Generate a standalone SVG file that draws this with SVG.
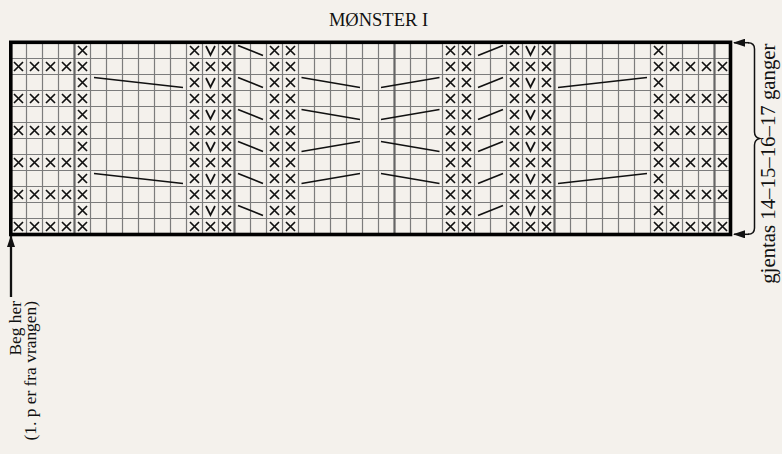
<svg xmlns="http://www.w3.org/2000/svg" xmlns:xlink="http://www.w3.org/1999/xlink" width="782" height="454" viewBox="0 0 782 454">
<style>
.grid{stroke:#7c7c7c;stroke-width:1.2;fill:none}
.thick{stroke:#666;stroke-width:2.2;fill:none}
.sym{stroke:#111;stroke-width:1.7;fill:none;stroke-linecap:butt}
.ln{stroke:#111;stroke-width:1.7;fill:none}
.txt{font-family:"Liberation Serif","Times New Roman",serif;fill:#111}
</style>
<defs>
<path id="X" class="sym" d="M3.5 3.5L12.5 12.5M12.5 3.5L3.5 12.5"/>
<path id="V" class="sym" d="M3.5 3.5L8 12.5L12.5 3.5"/>
<marker id="ah" viewBox="0 0 12 8" refX="11" refY="4" markerWidth="12" markerHeight="8" markerUnits="userSpaceOnUse" orient="auto"><path d="M0 0L12 4L0 8Z" fill="#111"/></marker>
</defs>
<rect width="782" height="454" fill="#f4f1ec"/>
<text class="txt" x="378.5" y="26" font-size="18.5" text-anchor="middle">MØNSTER I</text>
<g id="grid">
<path class="grid" d="M10.5 58.5H730.5M10.5 74.5H730.5M10.5 90.5H730.5M10.5 106.5H730.5M10.5 122.5H730.5M10.5 138.5H730.5M10.5 154.5H730.5M10.5 170.5H730.5M10.5 186.5H730.5M10.5 202.5H730.5M10.5 218.5H730.5"/>
<path class="grid" d="M26.5 42.5V234.5M42.5 42.5V234.5M58.5 42.5V234.5M90.5 42.5V234.5M106.5 42.5V234.5M122.5 42.5V234.5M138.5 42.5V234.5M154.5 42.5V234.5M170.5 42.5V234.5M186.5 42.5V234.5M202.5 42.5V234.5M218.5 42.5V234.5M250.5 42.5V234.5M266.5 42.5V234.5M282.5 42.5V234.5M298.5 42.5V234.5M314.5 42.5V234.5M330.5 42.5V234.5M346.5 42.5V234.5M362.5 42.5V234.5M378.5 42.5V234.5M410.5 42.5V234.5M426.5 42.5V234.5M442.5 42.5V234.5M458.5 42.5V234.5M474.5 42.5V234.5M490.5 42.5V234.5M506.5 42.5V234.5M522.5 42.5V234.5M538.5 42.5V234.5M570.5 42.5V234.5M586.5 42.5V234.5M602.5 42.5V234.5M618.5 42.5V234.5M634.5 42.5V234.5M650.5 42.5V234.5M666.5 42.5V234.5M682.5 42.5V234.5M698.5 42.5V234.5"/>
<path class="thick" d="M74.5 42.5V234.5M234.5 42.5V234.5M394.5 42.5V234.5M554.5 42.5V234.5M714.5 42.5V234.5"/>
<rect x="10.8" y="42.3" width="719.7" height="192.2" fill="none" stroke="#000" stroke-width="3.6"/>
</g>
<g id="symbols">
<use href="#X" x="10.5" y="58.5"/><use href="#X" x="26.5" y="58.5"/><use href="#X" x="42.5" y="58.5"/><use href="#X" x="58.5" y="58.5"/>
<use href="#X" x="10.5" y="90.5"/><use href="#X" x="26.5" y="90.5"/><use href="#X" x="42.5" y="90.5"/><use href="#X" x="58.5" y="90.5"/>
<use href="#X" x="10.5" y="122.5"/><use href="#X" x="26.5" y="122.5"/><use href="#X" x="42.5" y="122.5"/><use href="#X" x="58.5" y="122.5"/>
<use href="#X" x="10.5" y="154.5"/><use href="#X" x="26.5" y="154.5"/><use href="#X" x="42.5" y="154.5"/><use href="#X" x="58.5" y="154.5"/>
<use href="#X" x="10.5" y="186.5"/><use href="#X" x="26.5" y="186.5"/><use href="#X" x="42.5" y="186.5"/><use href="#X" x="58.5" y="186.5"/>
<use href="#X" x="10.5" y="218.5"/><use href="#X" x="26.5" y="218.5"/><use href="#X" x="42.5" y="218.5"/><use href="#X" x="58.5" y="218.5"/>
<use href="#X" x="666.5" y="58.5"/><use href="#X" x="682.5" y="58.5"/><use href="#X" x="698.5" y="58.5"/><use href="#X" x="714.5" y="58.5"/>
<use href="#X" x="666.5" y="90.5"/><use href="#X" x="682.5" y="90.5"/><use href="#X" x="698.5" y="90.5"/><use href="#X" x="714.5" y="90.5"/>
<use href="#X" x="666.5" y="122.5"/><use href="#X" x="682.5" y="122.5"/><use href="#X" x="698.5" y="122.5"/><use href="#X" x="714.5" y="122.5"/>
<use href="#X" x="666.5" y="154.5"/><use href="#X" x="682.5" y="154.5"/><use href="#X" x="698.5" y="154.5"/><use href="#X" x="714.5" y="154.5"/>
<use href="#X" x="666.5" y="186.5"/><use href="#X" x="682.5" y="186.5"/><use href="#X" x="698.5" y="186.5"/><use href="#X" x="714.5" y="186.5"/>
<use href="#X" x="666.5" y="218.5"/><use href="#X" x="682.5" y="218.5"/><use href="#X" x="698.5" y="218.5"/><use href="#X" x="714.5" y="218.5"/>
<g id="fullcol4"><use href="#X" x="74.5" y="42.5"/><use href="#X" x="74.5" y="58.5"/><use href="#X" x="74.5" y="74.5"/><use href="#X" x="74.5" y="90.5"/><use href="#X" x="74.5" y="106.5"/><use href="#X" x="74.5" y="122.5"/><use href="#X" x="74.5" y="138.5"/><use href="#X" x="74.5" y="154.5"/><use href="#X" x="74.5" y="170.5"/><use href="#X" x="74.5" y="186.5"/><use href="#X" x="74.5" y="202.5"/><use href="#X" x="74.5" y="218.5"/></g>
<use href="#fullcol4" x="112"/>
<use href="#fullcol4" x="144"/>
<use href="#fullcol4" x="192"/>
<use href="#fullcol4" x="208"/>
<use href="#fullcol4" x="368"/>
<use href="#fullcol4" x="384"/>
<use href="#fullcol4" x="432"/>
<use href="#fullcol4" x="464"/>
<use href="#fullcol4" x="576"/>
<g id="vcol12"><use href="#V" x="202.5" y="42.5"/><use href="#X" x="202.5" y="58.5"/><use href="#V" x="202.5" y="74.5"/><use href="#X" x="202.5" y="90.5"/><use href="#V" x="202.5" y="106.5"/><use href="#X" x="202.5" y="122.5"/><use href="#V" x="202.5" y="138.5"/><use href="#X" x="202.5" y="154.5"/><use href="#V" x="202.5" y="170.5"/><use href="#X" x="202.5" y="186.5"/><use href="#V" x="202.5" y="202.5"/><use href="#X" x="202.5" y="218.5"/></g>
<use href="#vcol12" x="320"/>
</g>
<g id="crossings">
<path class="ln" d="M94 77.5L183 87.5M94 173.5L183 183.5"/>
<path class="ln" d="M238 45.5L263 55.5M238 77.5L263 87.5M238 109.5L263 119.5M238 141.5L263 151.5M238 173.5L263 183.5M238 205.5L263 215.5"/>
<path class="ln" d="M301.5 77.5L360 87.5M301.5 109.5L360 119.5M301.5 151.5L360 141.5M301.5 183.5L360 173.5"/>
<path class="ln" d="M381 87.5L439.5 77.5M381 119.5L439.5 109.5M381 141.5L439.5 151.5M381 173.5L439.5 183.5"/>
<path class="ln" d="M478 55.5L503 45.5M478 87.5L503 77.5M478 119.5L503 109.5M478 151.5L503 141.5M478 183.5L503 173.5M478 215.5L503 205.5"/>
<path class="ln" d="M558 87.5L647 77.5M558 183.5L647 173.5"/>
</g>
<g id="connectors">
<path d="M11 297V236" stroke="#111" stroke-width="2.3" fill="none" marker-end="url(#ah)"/>
<path d="M749 42.7H734" stroke="#111" stroke-width="1.5" fill="none" marker-end="url(#ah)"/>
<path d="M749 234.3H734" stroke="#111" stroke-width="1.5" fill="none" marker-end="url(#ah)"/>
<path d="M748 42.7Q754.5 42.7 754.5 49V132Q754.5 137 759.5 138.5Q754.5 140 754.5 145V228Q754.5 234.3 748 234.3" stroke="#111" stroke-width="1.5" fill="none"/>
</g>
<text class="txt" font-size="20.8" text-anchor="end" transform="translate(775 43.5) rotate(-90)">gjentas 14–15–16–17 ganger</text>
<text class="txt" font-size="17.4" text-anchor="end" transform="translate(21 301) rotate(-90)">Beg her</text>
<text class="txt" font-size="17.4" text-anchor="end" transform="translate(36 301) rotate(-90)">(1. p er fra vrangen)</text>
</svg>
